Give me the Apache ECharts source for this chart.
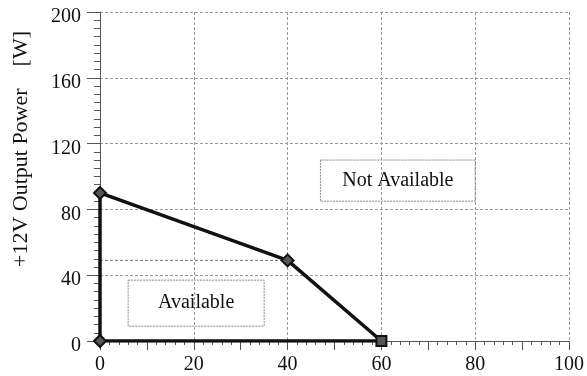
<!DOCTYPE html>
<html>
<head>
<meta charset="utf-8">
<script src="https://cdn.jsdelivr.net/npm/echarts@6/dist/echarts.min.js"></script>
<style>html,body{margin:0;padding:0;background:#fff;}#c{width:587px;height:376px;}</style>
</head>
<body>
<div id="c"></div>
<script>
// Data
const pointsX = [0, 0, 40, 60, 0];
const pointsY = [0, 90, 49, 0, 0];
const pointSymbols = ['diamond', 'diamond', 'diamond', 'rect', 'none'];
const refLineX = [0, 40];
const refLineY = [49, 49];
const regionNames = ['Available', 'Not Available'];
const regionX = [[6, 35], [47, 80]];
const regionY = [[9, 37], [85, 110]];
const yTitle = '+12V Output Power    [W]';

const FONT = 'Liberation Serif';
const chart = echarts.init(document.getElementById('c'));

const mainData = pointsX.map((x, i) => ({
  value: [x, pointsY[i]],
  symbol: pointSymbols[i],
  symbolSize: pointSymbols[i] === 'rect' ? 10 : 12
}));

const areaData = regionNames.map((n, i) => [
  { name: n, coord: [regionX[i][0], regionY[i][1]] },
  { coord: [regionX[i][1], regionY[i][0]] }
]);

chart.setOption({
  animation: false,
  backgroundColor: '#fff',
  grid: { left: 100, right: 11, top: 12, bottom: 35, containLabel: false },
  xAxis: [{
    type: 'value', min: 0, max: 100, interval: 20, position: 'bottom',
    axisLine: { show: true, onZero: false, lineStyle: { color: '#555', width: 1 } },
    axisTick: { show: true, length: 9, lineStyle: { color: '#555' } },
    minorTick: { show: true, splitNumber: 10, length: 4, lineStyle: { color: '#555' } },
    splitLine: { show: true, lineStyle: { color: '#999', width: 1, type: [3, 2] } },
    axisLabel: { fontFamily: FONT, fontSize: 20, color: '#111', margin: 14 }
  }, {
    type: 'value', min: 0, max: 100, interval: 10, position: 'bottom', offset: 0,
    axisLine: { show: false },
    axisTick: { show: true, length: 9, lineStyle: { color: '#555' } },
    splitLine: { show: false },
    axisLabel: { show: false }
  }],
  yAxis: {
    type: 'value', min: 0, max: 200, interval: 40,
    axisLine: { show: true, onZero: false, lineStyle: { color: '#555', width: 1 } },
    axisTick: { show: true, length: 13, lineStyle: { color: '#555' } },
    minorTick: { show: true, splitNumber: 8, length: 6, lineStyle: { color: '#555' } },
    splitLine: { show: true, lineStyle: { color: '#999', width: 1, type: [3, 2] } },
    axisLabel: { fontFamily: FONT, fontSize: 20, color: '#111', margin: 19, verticalAlign: 'top', lineHeight: 10 }
  },
  graphic: [{
    type: 'text',
    x: 21, y: 149, rotation: Math.PI / 2,
    style: { text: yTitle, fontFamily: FONT, fontSize: 22, fill: '#111', align: 'center', verticalAlign: 'middle' }
  }],
  series: [{
    type: 'line', xAxisIndex: 0,
    data: refLineX.map((x, i) => [x, refLineY[i]]),
    symbol: 'none', lineStyle: { color: '#777', width: 1, type: [3, 2] }, z: 1,
    markArea: {
      silent: true,
      itemStyle: { color: 'rgba(0,0,0,0)', borderColor: '#888', borderWidth: 1, borderType: [2, 1] },
      label: { show: true, position: 'inside', fontFamily: FONT, fontSize: 20, color: '#111' },
      data: areaData
    }
  }, {
    type: 'line', xAxisIndex: 0,
    data: mainData,
    lineStyle: { color: '#111', width: 3.5 },
    itemStyle: { color: '#555', borderColor: '#111', borderWidth: 2 },
    z: 5
  }]
});
</script>
</body>
</html>
